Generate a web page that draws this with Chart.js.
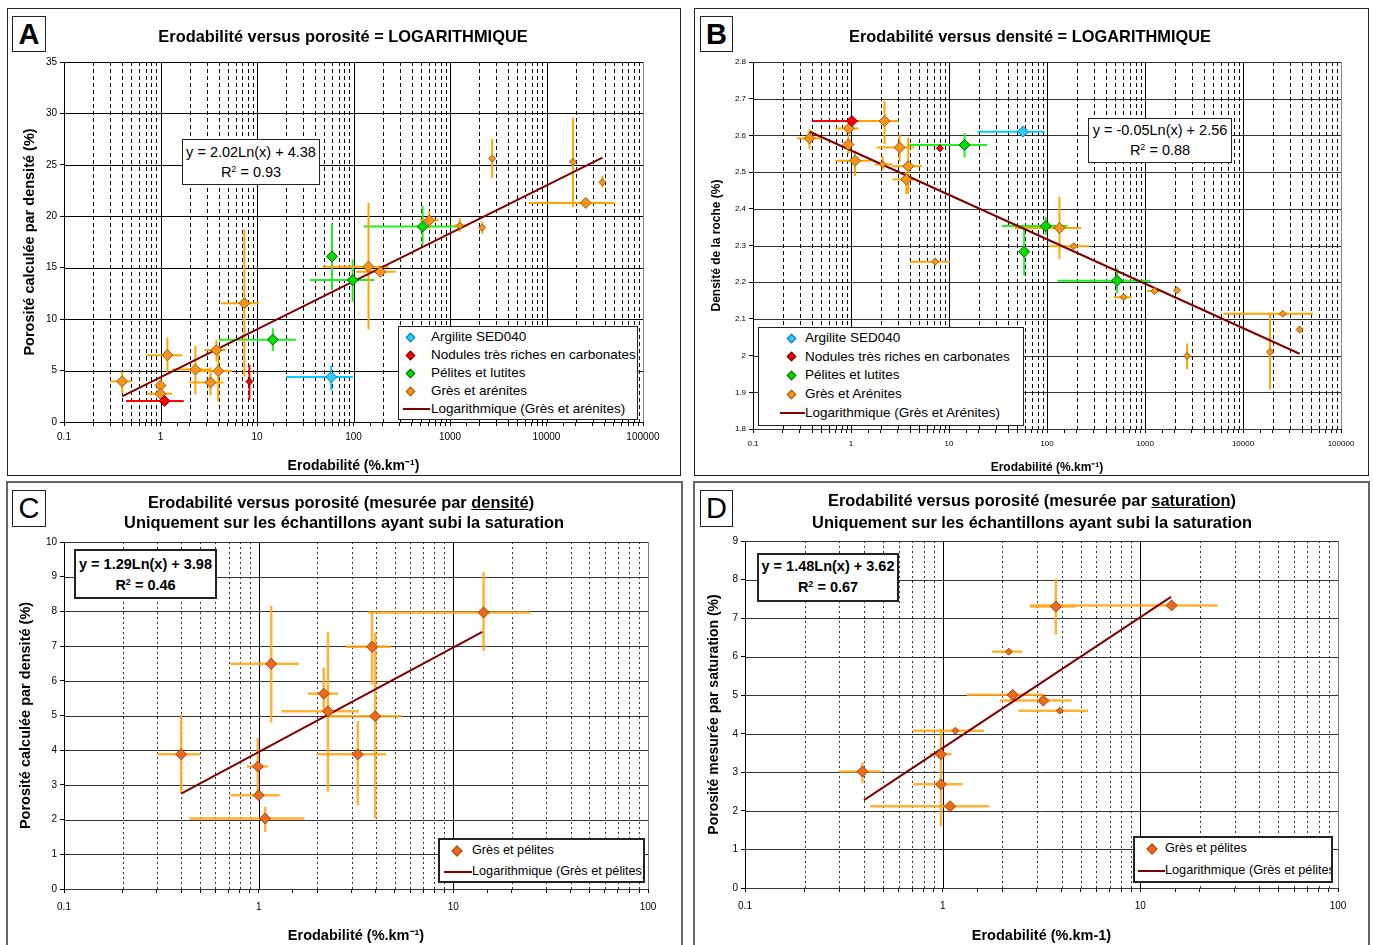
<!DOCTYPE html>
<html>
<head>
<meta charset="utf-8">
<script src="https://cdn.jsdelivr.net/npm/chart.js@4.4.0/dist/chart.umd.min.js"></script>
<style>
  body { margin: 0; background: #fff; font-family: "Liberation Sans", Arial, sans-serif; color: #000; }
  #page { position: relative; width: 1373px; height: 945px; overflow: hidden; }
  .panel { position: absolute; box-sizing: border-box; border: 1px solid #222; }
  .panel.low { border: 2px solid #666; }
  canvas { position: absolute; }
  .letter { position: absolute; box-sizing: border-box; border: 1px solid #222; background: #fff;
            font-size: 29px; text-align: center; }
  .title { position: absolute; transform: translateX(-50%); white-space: nowrap; font-weight: bold;
           font-size: 16.4px; line-height: 20px; }
  .eq { position: absolute; box-sizing: border-box; border: 1px solid #222; background: #fff;
        text-align: center; font-size: 14.5px; white-space: nowrap; }
  .eq sup { font-size: 9px; vertical-align: 5px; line-height: 0; }
  .leg { position: absolute; box-sizing: border-box; border: 1px solid #222; background: #fff;
         overflow: hidden; white-space: nowrap; }
  .leg span { position: absolute; }
</style>
</head>
<body>
<div id="page">
  <div class="panel" style="left:7px;top:8px;width:674px;height:468px"></div>
  <div class="panel" style="left:694px;top:8px;width:675px;height:468px"></div>
  <div class="panel low" style="left:6px;top:481px;width:677px;height:480px"></div>
  <div class="panel low" style="left:693px;top:481px;width:677px;height:480px"></div>

  <canvas id="cA" width="673" height="467" style="left:7px;top:8px"></canvas>
  <canvas id="cB" width="674" height="467" style="left:694px;top:8px"></canvas>
  <canvas id="cC" width="675" height="463" style="left:7px;top:482px"></canvas>
  <canvas id="cD" width="674" height="463" style="left:694px;top:482px"></canvas>

  <div class="letter" style="left:12px;top:16px;width:34px;height:36px;line-height:34px;font-weight:bold">A</div>
  <div class="letter" style="left:700px;top:16px;width:33px;height:36px;line-height:34px;font-weight:bold">B</div>
  <div class="letter" style="left:12px;top:490px;width:34px;height:37px;line-height:35px">C</div>
  <div class="letter" style="left:700px;top:490px;width:33px;height:37px;line-height:35px">D</div>

  <div class="title" style="left:343px;top:26px">Erodabilité versus porosité = LOGARITHMIQUE</div>
  <div class="title" style="left:1030px;top:26px">Erodabilité versus densité = LOGARITHMIQUE</div>
  <div class="title" style="left:341px;top:492px">Erodabilité versus porosité (mesurée par <u>densité</u>)</div>
  <div class="title" style="left:344px;top:512px">Uniquement sur les échantillons ayant subi la saturation</div>
  <div class="title" style="left:1032px;top:490px">Erodabilité versus porosité (mesurée par <u>saturation</u>)</div>
  <div class="title" style="left:1032px;top:512px">Uniquement sur les échantillons ayant subi la saturation</div>

  <div class="eq" style="left:182px;top:139px;width:138px;height:46px;line-height:20px;padding-top:2px">y = 2.02Ln(x) + 4.38<br>R<sup>2</sup> = 0.93</div>
  <div class="eq" style="left:1088px;top:118px;width:144px;height:45px;line-height:20px;padding-top:1px">y = -0.05Ln(x) + 2.56<br>R<sup>2</sup> = 0.88</div>
  <div class="eq" style="left:74px;top:549px;width:143px;height:50px;line-height:21px;padding-top:3px;border-width:2px;font-weight:bold">y = 1.29Ln(x) + 3.98<br>R<sup>2</sup> = 0.46</div>
  <div class="eq" style="left:757px;top:553px;width:142px;height:49px;line-height:21px;padding-top:1px;border-width:2px;font-weight:bold">y = 1.48Ln(x) + 3.62<br>R<sup>2</sup> = 0.67</div>

  <div class="leg" id="legA" style="left:398px;top:326px;width:240px;height:94px"></div>
  <div class="leg" id="legB" style="left:758px;top:327px;width:266px;height:99px"></div>
  <div class="leg" id="legC" style="left:438px;top:838px;width:207px;height:45px;border-width:2px"></div>
  <div class="leg" id="legD" style="left:1133px;top:836px;width:200px;height:47px;border-width:2px"></div>
</div>

<script>
const FONT = '"Liberation Sans", Arial, sans-serif';

// chaque ligne : [x, y, xMin, xMax, yMin, yMax]  (null = pas de barre)

// A : porosité calculée par densité
const aArgilite = [[58.7, 4.37, 20, 98.5, 3.1, 5.5]];
const aNodules = [
  [1.1, 2.05, 0.44, 1.74, null, null],
  [8.35, 3.93, null, null, 2.15, 5.55]
];
const aPelites = [
  [14.6, 8.0, 4.05, 25.4, 6.9, 9.1],
  [59.8, 16.1, null, null, 12.85, 19.3],
  [98, 13.8, 35.5, 165, 11.7, 15.8],
  [520, 19.0, 128, 1230, 17.2, 21.0]
];
const aGres = [
  [0.40, 3.95, 0.30, 0.50, 2.8, 4.9],
  [1.0, 3.55, null, null, 3.0, 4.2],
  [1.0, 2.75, 0.73, 1.32, null, null],
  [1.18, 6.5, 0.72, 1.68, 4.8, 8.2],
  [2.3, 5.1, 1.33, 3.3, 2.7, 7.4],
  [3.3, 3.85, 2.0, 4.5, 2.6, 5.3],
  [3.8, 7.0, 2.85, 4.75, 5.9, 8.0],
  [3.97, 4.95, 2.0, 5.5, 2.0, 7.0],
  [7.4, 11.55, 4.25, 10.5, 4.4, 18.7],
  [143, 15.1, 48, 232, 9.0, 21.3],
  [190, 14.6, 106, 273, null, null],
  [610, 19.6, 487, 757, 18.8, 20.5],
  [1262, 19.1, 1110, 1500, 18.5, 19.8],
  [2157, 18.9, null, null, 18.3, 19.5],
  [2737, 25.6, null, null, 23.7, 27.5],
  [18800, 25.3, null, null, 20.9, 29.6],
  [25500, 21.3, 6570, 51600, null, null],
  [38000, 23.3, null, null, 22.8, 23.95]
];
const aTrend = [[0.4, 2.5], [38000, 25.7]];
const aGresSmall = [12, 13, 14, 15, 17];
const aNodulesSmall = [1];

// B : densité de la roche
const bArgilite = [[56.9, 2.61, 19.5, 94.7, null, null]];
const bNodules = [
  [1.02, 2.639, 0.41, 1.2, null, null],
  [8.08, 2.565, null, null, null, null]
];
const bPelites = [
  [14.4, 2.574, 3.84, 24.6, 2.54, 2.606],
  [58.5, 2.283, null, null, 2.218, 2.348],
  [97, 2.353, 34.6, 162, 2.328, 2.378],
  [519, 2.204, 128, 1130, 2.17, 2.238]
];
const bGres = [
  [0.377, 2.592, 0.28, 0.50, 2.563, 2.617],
  [0.95, 2.619, 0.69, 1.2, null, null],
  [0.94, 2.575, null, null, 2.55, 2.60],
  [1.1, 2.531, 0.69, 1.59, 2.489, 2.558],
  [2.2, 2.639, 1.2, 3.05, 2.576, 2.694],
  [2.1, 2.521, 1.75, 2.65, 2.505, 2.545],
  [3.13, 2.567, 1.83, 4.42, 2.529, 2.603],
  [3.84, 2.516, 2.65, 5.3, 2.441, 2.594],
  [3.67, 2.48, 2.65, 4.4, 2.44, 2.50],
  [7.23, 2.256, 4.02, 10.2, null, null],
  [134, 2.348, 47, 223, 2.263, 2.432],
  [187, 2.298, 104, 268, null, null],
  [605, 2.159, 480, 730, null, null],
  [1250, 2.176, 1050, 1400, null, null],
  [2125, 2.178, null, null, null, null],
  [2690, 1.999, null, null, 1.963, 2.033],
  [18880, 2.01, null, null, 1.908, 2.116],
  [25400, 2.114, 6300, 52000, null, null],
  [37800, 2.071, null, null, null, null]
];
const bTrend = [[0.38, 2.61], [37800, 2.005]];
const bGresSmall = [5, 9, 11, 12, 13, 14, 15, 16, 17, 18];
const bNodulesSmall = [1];

// C : porosité par densité, échantillons saturés
const cGresPelites = [
  [0.40, 3.88, 0.30, 0.50, 2.75, 5.02],
  [1.16, 6.49, 0.715, 1.61, 4.8, 8.16],
  [0.99, 3.53, 0.87, 1.12, 2.75, 4.35],
  [1.0, 2.7, 0.715, 1.28, null, null],
  [1.08, 2.03, 0.44, 1.72, 1.64, 2.37],
  [2.16, 5.63, 1.79, 2.56, 5.1, 6.38],
  [2.27, 5.12, 1.31, 3.27, 2.8, 7.41],
  [3.82, 6.98, 2.8, 4.78, 5.89, 7.97],
  [3.97, 4.98, 2.29, 5.42, 2.03, 7.39],
  [3.23, 3.88, 1.98, 4.51, 2.41, 4.83],
  [14.3, 7.97, 3.66, 25, 6.86, 9.13]
];
const cTrend = [[0.40, 2.75], [14.1, 7.41]];

// D : porosité mesurée par saturation
const dGresPelites = [
  [0.393, 3.02, 0.30, 0.49, 2.73, 3.25],
  [0.98, 3.47, 0.86, 1.11, 1.6, 4.12],
  [0.98, 2.69, 0.71, 1.26, null, null],
  [1.09, 2.12, 0.43, 1.72, null, null],
  [1.16, 4.08, 0.71, 1.62, null, null],
  [2.16, 6.13, 1.78, 2.53, null, null],
  [2.26, 5.01, 1.32, 3.26, null, null],
  [3.23, 4.86, 1.95, 4.49, null, null],
  [3.91, 4.6, 2.42, 5.43, null, null],
  [3.74, 7.3, 2.77, 4.7, 6.57, 8.02],
  [14.4, 7.33, 2.77, 24.6, null, null]
];
const dTrend = [[0.40, 2.28], [14.3, 7.55]];
const dSmall = [4, 5, 8];

// couleurs (style Excel)
const COL = {
  argilite: { fill: '#33ccff', line: '#0077aa', bar: '#00ccff' },
  nodules: { fill: '#ff0000', line: '#660000', bar: '#ff0000' },
  pelites: { fill: '#00dd00', line: '#006600', bar: '#22ee22' },
  gres: { fill: '#f7941e', line: '#a35a00', bar: '#ffa500' },
  gp: { fill: '#ea6a1f', line: '#b04000', bar: 'rgba(255,165,20,0.85)' },
  trend: '#800000'
};

const toPts = rows => rows.map(r => ({ x: r[0], y: r[1], xLo: r[2], xHi: r[3], yLo: r[4], yHi: r[5] }));

const series = (label, rows, c, big, small, smallIdx) => ({
  label,
  data: toPts(rows),
  pointStyle: 'rectRot',
  pointRadius: ctx => (smallIdx || []).includes(ctx.dataIndex) ? small : big,
  pointBackgroundColor: c.fill,
  pointBorderColor: c.line,
  pointBorderWidth: 1,
  barColor: c.bar,
  showLine: false
});

const trend = (label, rows) => ({
  label,
  data: rows.map(r => ({ x: r[0], y: r[1] })),
  showLine: true,
  borderColor: COL.trend,
  borderWidth: 2,
  pointRadius: 0
});

// grille log (décades pleines, 2..9 pointillées) + barres d'erreur
const logGrid = {
  id: 'logGrid',
  beforeDatasetsDraw(chart, args, o) {
    const { ctx, chartArea: a, scales: { x, y } } = chart;
    ctx.save();
    ctx.lineWidth = 1;
    ctx.strokeStyle = o.hColor;
    y.ticks.forEach(t => {
      const py = Math.round(y.getPixelForValue(t.value)) + 0.5;
      ctx.beginPath(); ctx.moveTo(a.left, py); ctx.lineTo(a.right, py); ctx.stroke();
    });
    const e0 = Math.round(Math.log10(x.min)), e1 = Math.round(Math.log10(x.max));
    for (let e = e0; e <= e1; e++) {
      for (let k = 1; k < 10; k++) {
        if (e === e1 && k > 1) break;
        const px = Math.round(x.getPixelForValue(k * Math.pow(10, e))) + 0.5;
        ctx.strokeStyle = e === e1 ? o.edgeColor : (k === 1 ? '#000' : o.minorColor);
        ctx.setLineDash(k === 1 ? [] : o.dash);
        ctx.beginPath(); ctx.moveTo(px, a.top); ctx.lineTo(px, a.bottom); ctx.stroke();
      }
    }
    ctx.setLineDash([]);
    chart.data.datasets.forEach(ds => {
      if (!ds.barColor) return;
      ctx.strokeStyle = ds.barColor;
      ctx.lineWidth = o.barWidth;
      ds.data.forEach(p => {
        const px = x.getPixelForValue(p.x), py = y.getPixelForValue(p.y);
        if (p.xLo != null) {
          ctx.beginPath();
          ctx.moveTo(x.getPixelForValue(p.xLo), py); ctx.lineTo(x.getPixelForValue(p.xHi), py);
          ctx.stroke();
        }
        if (p.yLo != null) {
          ctx.beginPath();
          ctx.moveTo(px, y.getPixelForValue(p.yLo)); ctx.lineTo(px, y.getPixelForValue(p.yHi));
          ctx.stroke();
        }
      });
    });
    ctx.restore();
  }
};

const isDecade = v => Math.abs(Math.log10(v) - Math.round(Math.log10(v))) < 1e-6;

function makeChart(id, c) {
  return new Chart(document.getElementById(id), {
    type: 'scatter',
    data: { datasets: c.datasets },
    options: {
      responsive: false,
      animation: false,
      events: [],
      layout: { padding: { top: c.padTop, right: c.padRight, left: 0, bottom: 0 } },
      plugins: {
        legend: { display: false },
        tooltip: { enabled: false },
        logGrid: { hColor: c.hColor || '#000', minorColor: c.minorColor || '#000',
                   edgeColor: c.edgeColor || '#000', dash: c.dash, barWidth: c.barWidth || 2 }
      },
      scales: {
        x: {
          type: 'logarithmic',
          min: c.xMin, max: c.xMax,
          afterFit: s => { s.height = c.xH; },
          grid: { display: true, drawOnChartArea: false, drawTicks: true, tickLength: 4, color: '#000' },
          border: { display: true, color: '#000' },
          ticks: {
            autoSkip: false, maxRotation: 0, padding: c.xTickPad, color: '#000',
            font: { family: FONT, size: c.tickSize },
            callback: v => isDecade(v) ? String(+v.toPrecision(6)) : ''
          },
          title: { display: true, text: c.xTitle, color: '#000',
                   font: { family: FONT, size: c.xTitleSize, weight: 'bold' },
                   padding: { top: c.xTitlePad, bottom: 0 } }
        },
        y: {
          min: c.yMin, max: c.yMax,
          afterFit: s => { s.width = c.yW; },
          grid: { display: true, drawOnChartArea: false, drawTicks: true, tickLength: 4, color: '#000' },
          border: { display: true, color: '#000' },
          ticks: {
            stepSize: c.yStep, padding: 3, color: '#000',
            font: { family: FONT, size: c.tickSize },
            callback: v => String(+v.toFixed(1))
          },
          title: { display: true, text: c.yTitle, color: '#000',
                   font: { family: FONT, size: c.yTitleSize, weight: 'bold' },
                   padding: { top: c.yTitlePad, bottom: 0 } }
        }
      }
    },
    plugins: [logGrid]
  });
}

makeChart('cA', {
  datasets: [
    series('Argilite SED040', aArgilite, COL.argilite, 5.5, 3.5),
    series('Nodules très riches en carbonates', aNodules, COL.nodules, 5.5, 3.5, aNodulesSmall),
    series('Pélites et lutites', aPelites, COL.pelites, 5.5, 3.5),
    series('Grès et arénites', aGres, COL.gres, 5.5, 3.5, aGresSmall),
    trend('Logarithmique (Grès et arénites)', aTrend)
  ],
  xMin: 0.1, xMax: 100000, yMin: 0, yMax: 35, yStep: 5,
  padTop: 54, padRight: 37, xH: 53, yW: 57, tickSize: 10, xTickPad: 5,
  xTitle: 'Erodabilité (%.km⁻¹)', xTitleSize: 14, xTitlePad: 8.5,
  yTitle: 'Porosité calculée par densité (%)', yTitleSize: 14.5, yTitlePad: 14,
  dash: [4, 3], edgeColor: '#888'
});

makeChart('cB', {
  datasets: [
    series('Argilite SED040', bArgilite, COL.argilite, 5.5, 3.5),
    series('Nodules très riches en carbonates', bNodules, COL.nodules, 5.5, 3.5, bNodulesSmall),
    series('Pélites et lutites', bPelites, COL.pelites, 5.5, 3.5),
    series('Grès et Arénites', bGres, COL.gres, 5.5, 3.5, bGresSmall),
    trend('Logarithmique (Grès et Arénites)', bTrend)
  ],
  xMin: 0.1, xMax: 100000, yMin: 1.8, yMax: 2.8, yStep: 0.1,
  padTop: 54, padRight: 27, xH: 46, yW: 59, tickSize: 8, xTickPad: 6,
  xTitle: 'Erodabilité (%.km⁻¹)', xTitleSize: 12, xTitlePad: 9,
  yTitle: 'Densité de la roche (%)', yTitleSize: 12, yTitlePad: 15,
  dash: [4, 3], hColor: '#333', edgeColor: '#888'
});

makeChart('cC', {
  datasets: [
    series('Grès et pélites', cGresPelites, COL.gp, 5.5, 3.5),
    trend('Logarithmique (Grès et pélites)', cTrend)
  ],
  xMin: 0.1, xMax: 100, yMin: 0, yMax: 10, yStep: 1,
  padTop: 60, padRight: 34, xH: 56, yW: 57, tickSize: 10, xTickPad: 8,
  xTitle: 'Erodabilité (%.km⁻¹)', xTitleSize: 14.5, xTitlePad: 5,
  yTitle: 'Porosité calculée par densité (%)', yTitleSize: 14.5, yTitlePad: 10,
  dash: [2, 3], minorColor: '#333', hColor: '#333', edgeColor: '#777', barWidth: 2.5
});

makeChart('cD', {
  datasets: [
    series('Grès et pélites', dGresPelites, COL.gp, 5.5, 3.5, dSmall),
    trend('Logarithmique (Grès et pélites)', dTrend)
  ],
  xMin: 0.1, xMax: 100, yMin: 0, yMax: 9, yStep: 1,
  padTop: 59, padRight: 30, xH: 57, yW: 51, tickSize: 10, xTickPad: 8,
  xTitle: 'Erodabilité (%.km-1)', xTitleSize: 14.5, xTitlePad: 9,
  yTitle: 'Porosité mesurée par saturation (%)', yTitleSize: 14, yTitlePad: 11.5,
  dash: [2, 3], minorColor: '#333', hColor: '#333', edgeColor: '#777', barWidth: 2.5
});

// légendes (boîtes encadrées dans la zone de tracé)
function legend(id, items, o) {
  const box = document.getElementById(id);
  items.forEach((it, i) => {
    const cy = o.top + i * o.step;
    if (it.c) {
      const m = document.createElement('span');
      const s = o.mark;
      m.style.cssText = `left:${o.markX - s / 2}px;top:${cy - s / 2}px;width:${s}px;height:${s}px;` +
        `box-sizing:border-box;background:${it.c.fill};border:1px solid ${it.c.line};transform:rotate(45deg)`;
      box.appendChild(m);
    } else {
      const l = document.createElement('span');
      l.style.cssText = `left:${o.lineX0}px;top:${cy - 1}px;width:${o.lineX1 - o.lineX0}px;height:2px;background:${COL.trend}`;
      box.appendChild(l);
    }
    const t = document.createElement('span');
    t.textContent = it.label;
    t.style.cssText = `left:${o.textX}px;top:${cy - o.font * 0.6}px;font-size:${o.font}px;line-height:${o.font * 1.2}px`;
    box.appendChild(t);
  });
}

legend('legA', [
  { label: 'Argilite SED040', c: COL.argilite },
  { label: 'Nodules très riches en carbonates', c: COL.nodules },
  { label: 'Pélites et lutites', c: COL.pelites },
  { label: 'Grès et arénites', c: COL.gres },
  { label: 'Logarithmique (Grès et arénites)' }
], { top: 10, step: 18, markX: 11, mark: 7, textX: 32, lineX0: 4, lineX1: 31, font: 13.5 });

legend('legB', [
  { label: 'Argilite SED040', c: COL.argilite },
  { label: 'Nodules très riches en carbonates', c: COL.nodules },
  { label: 'Pélites et lutites', c: COL.pelites },
  { label: 'Grès et Arénites', c: COL.gres },
  { label: 'Logarithmique (Grès et Arénites)' }
], { top: 10, step: 18.7, markX: 32, mark: 7, textX: 46, lineX0: 21, lineX1: 46, font: 13.5 });

legend('legC', [
  { label: 'Grès et pélites', c: COL.gp },
  { label: 'Logarithmique (Grès et pélites)' }
], { top: 11, step: 21, markX: 17, mark: 8, textX: 32, lineX0: 4, lineX1: 32, font: 12.7 });

legend('legD', [
  { label: 'Grès et pélites', c: COL.gp },
  { label: 'Logarithmique (Grès et pélites)' }
], { top: 11, step: 22, markX: 17, mark: 8, textX: 30, lineX0: 3, lineX1: 30, font: 12.7 });
</script>
</body>
</html>
